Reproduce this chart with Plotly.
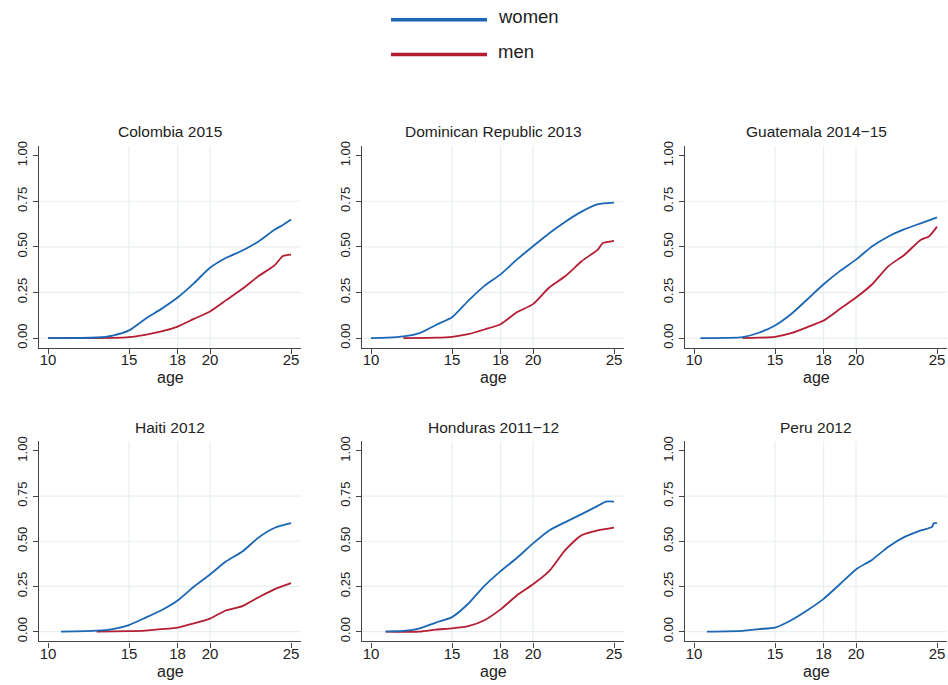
import plotly.graph_objects as go

# ---------------- data ----------------
panel_titles = ["Colombia 2015", "Dominican Republic 2013", "Guatemala 2014\u221215",
                "Haiti 2012", "Honduras 2011\u221212", "Peru 2012"]
x_ticks = [10, 15, 18, 20, 25]
y_ticks = [0, 0.25, 0.5, 0.75, 1.0]
y_tick_labels = ["0.00", "0.25", "0.50", "0.75", "1.00"]

col_w_age = [10, 13, 14, 15, 16, 17, 18, 19, 20, 21, 22, 23, 24, 24.5, 25]
col_w_val = [0, 0.003, 0.014, 0.042, 0.105, 0.16, 0.222, 0.30, 0.385, 0.44, 0.48, 0.53, 0.595, 0.62, 0.65]
col_m_age = [10, 14, 15, 16, 17, 18, 19, 20, 21, 22, 23, 24, 24.5, 25]
col_m_val = [0, 0.001, 0.005, 0.018, 0.036, 0.063, 0.105, 0.146, 0.208, 0.27, 0.34, 0.40, 0.45, 0.458]

dom_w_age = [10, 11, 12, 13, 14, 15, 16, 17, 18, 19, 20, 21, 22, 23, 24, 25]
dom_w_val = [0, 0.002, 0.009, 0.027, 0.072, 0.114, 0.204, 0.286, 0.349, 0.43, 0.503, 0.575, 0.638, 0.693, 0.734, 0.743]
dom_m_age = [12, 14, 15, 16, 17, 18, 19, 20, 21, 22, 23, 24, 24.3, 25]
dom_m_val = [0, 0.002, 0.007, 0.022, 0.047, 0.076, 0.141, 0.186, 0.277, 0.34, 0.421, 0.485, 0.52, 0.533]

gua_w_age = [10.4, 12, 13, 14, 15, 16, 17, 18, 19, 20, 21, 22, 23, 24, 25]
gua_w_val = [0, 0.001, 0.005, 0.029, 0.069, 0.132, 0.213, 0.295, 0.367, 0.43, 0.503, 0.557, 0.597, 0.629, 0.662]
gua_m_age = [13, 14, 15, 16, 17, 18, 19, 20, 21, 22, 23, 24, 24.5, 25]
gua_m_val = [0, 0.002, 0.007, 0.027, 0.06, 0.096, 0.159, 0.222, 0.295, 0.394, 0.457, 0.539, 0.557, 0.611]

hai_w_age = [10.8, 13, 14, 15, 16, 17, 18, 19, 20, 21, 22, 23, 24, 25]
hai_w_val = [0, 0.005, 0.014, 0.036, 0.076, 0.118, 0.172, 0.248, 0.316, 0.389, 0.443, 0.521, 0.575, 0.60]
hai_m_age = [13, 15, 16, 17, 18, 19, 20, 21, 22, 23, 24, 25]
hai_m_val = [0, 0.002, 0.005, 0.013, 0.022, 0.045, 0.072, 0.118, 0.141, 0.19, 0.235, 0.268]

hon_w_age = [10.9, 12, 13, 14, 15, 16, 17, 18, 19, 20, 21, 22, 23, 24, 24.5, 25]
hon_w_val = [0, 0.004, 0.018, 0.05, 0.08, 0.154, 0.253, 0.335, 0.407, 0.488, 0.56, 0.606, 0.65, 0.696, 0.72, 0.72]
hon_m_age = [10.9, 13, 14, 15, 16, 17, 18, 19, 20, 21, 22, 23, 24, 25]
hon_m_val = [0, 0.0, 0.011, 0.018, 0.03, 0.063, 0.123, 0.20, 0.262, 0.335, 0.452, 0.533, 0.56, 0.575]

per_w_age = [10.8, 13, 14, 15, 16, 17, 18, 19, 20, 21, 22, 23, 24, 24.7, 24.8, 25]
per_w_val = [0, 0.004, 0.014, 0.022, 0.063, 0.118, 0.181, 0.262, 0.344, 0.398, 0.47, 0.524, 0.56, 0.58, 0.60, 0.60]

women = [(col_w_age, col_w_val), (dom_w_age, dom_w_val), (gua_w_age, gua_w_val),
         (hai_w_age, hai_w_val), (hon_w_age, hon_w_val), (per_w_age, per_w_val)]
men = [(col_m_age, col_m_val), (dom_m_age, dom_m_val), (gua_m_age, gua_m_val),
       (hai_m_age, hai_m_val), (hon_m_age, hon_m_val), None]

# ---------------- style ----------------
W, H = 948, 685
BLUE = "#1b67b4"
RED = "#b41e32"
AXIS = "#444444"
GRID = "#e9eff1"
FONT = "Liberation Sans, Arial, sans-serif"
TXT = "#222222"

col_px = [(39, 301), (362, 624), (685, 947)]
row_px = [(142, 346), (440, 642)]  # top, bottom in pixels

fig = go.Figure()
layout = dict(
    width=W, height=H, margin=dict(l=0, r=0, t=0, b=0),
    paper_bgcolor="white", plot_bgcolor="white", showlegend=False,
    font=dict(family=FONT, color=TXT),
)
shapes = []
annotations = []

for i in range(6):
    r, c = divmod(i, 3)
    n = "" if i == 0 else str(i + 1)
    xa, ya = "x" + n, "y" + n
    x0, x1 = col_px[c]
    top, bot = row_px[r]
    layout["xaxis" + n] = dict(
        domain=[x0 / W, x1 / W], anchor=ya, range=[9.444, 25.617],
        tickvals=x_ticks, ticktext=[str(t) for t in x_ticks],
        ticks="outside", ticklen=5, tickcolor=AXIS, tickwidth=1,
        ticklabelstandoff=-7,
        showline=True, linecolor=AXIS, linewidth=1.3, showgrid=False, zeroline=False,
        tickfont=dict(size=15, color=TXT), fixedrange=True,
    )
    layout["yaxis" + n] = dict(
        domain=[1 - bot / H, 1 - top / H], anchor=xa, range=[-0.0543, 1.0543],
        tickvals=y_ticks, ticktext=y_tick_labels, tickangle=-90,
        ticks="outside", ticklen=5, tickcolor=AXIS, tickwidth=1,
        ticklabelstandoff=1,
        showline=True, linecolor=AXIS, linewidth=1.3, showgrid=False, zeroline=False,
        tickfont=dict(size=13, color=TXT), fixedrange=True,
    )
    for yv in y_ticks[:-1]:
        shapes.append(dict(type="line", xref=xa + " domain", yref=ya, x0=0, x1=1, y0=yv, y1=yv,
                           line=dict(color=GRID, width=1.2), layer="below"))
    for xv in x_ticks[1:-1]:
        shapes.append(dict(type="line", xref=xa, yref=ya + " domain", x0=xv, x1=xv, y0=0, y1=1,
                           line=dict(color=GRID, width=1.2), layer="below"))
    annotations.append(dict(text=panel_titles[i], xref="paper", yref="paper",
                            x=(x0 + x1) / 2 / W, y=1 - (top - 14) / H,
                            xanchor="center", yanchor="middle", showarrow=False,
                            font=dict(size=15.5, color=TXT)))
    annotations.append(dict(text="age", xref="paper", yref="paper",
                            x=(x0 + x1) / 2 / W, y=1 - (bot + 30) / H,
                            xanchor="center", yanchor="middle", showarrow=False,
                            font=dict(size=16, color=TXT)))
    if men[i] is not None:
        fig.add_trace(go.Scatter(x=men[i][0], y=men[i][1], mode="lines", name="men",
                                 line=dict(color=RED, width=1.8, shape="spline", smoothing=0.6),
                                 xaxis=xa, yaxis=ya))
    fig.add_trace(go.Scatter(x=women[i][0], y=women[i][1], mode="lines", name="women",
                             line=dict(color=BLUE, width=1.8, shape="spline", smoothing=0.6),
                             xaxis=xa, yaxis=ya))

for yy, col, lab in [(15, BLUE, "women"), (50, RED, "men")]:
    shapes.append(dict(type="line", xref="paper", yref="paper",
                       x0=391 / W, x1=487 / W, y0=1 - yy / H, y1=1 - yy / H,
                       line=dict(color=col, width=3.5)))
    annotations.append(dict(text=lab, xref="paper", yref="paper", x=496 / W, y=1 - (yy - 3) / H,
                            xanchor="left", yanchor="middle", showarrow=False,
                            font=dict(size=18.5, color=TXT)))

layout["shapes"] = shapes
layout["annotations"] = annotations
fig.update_layout(**layout)
fig.write_html("out.html", config={"displayModeBar": False},
               post_script="document.body.style.margin='0';document.body.style.overflow='hidden';")
